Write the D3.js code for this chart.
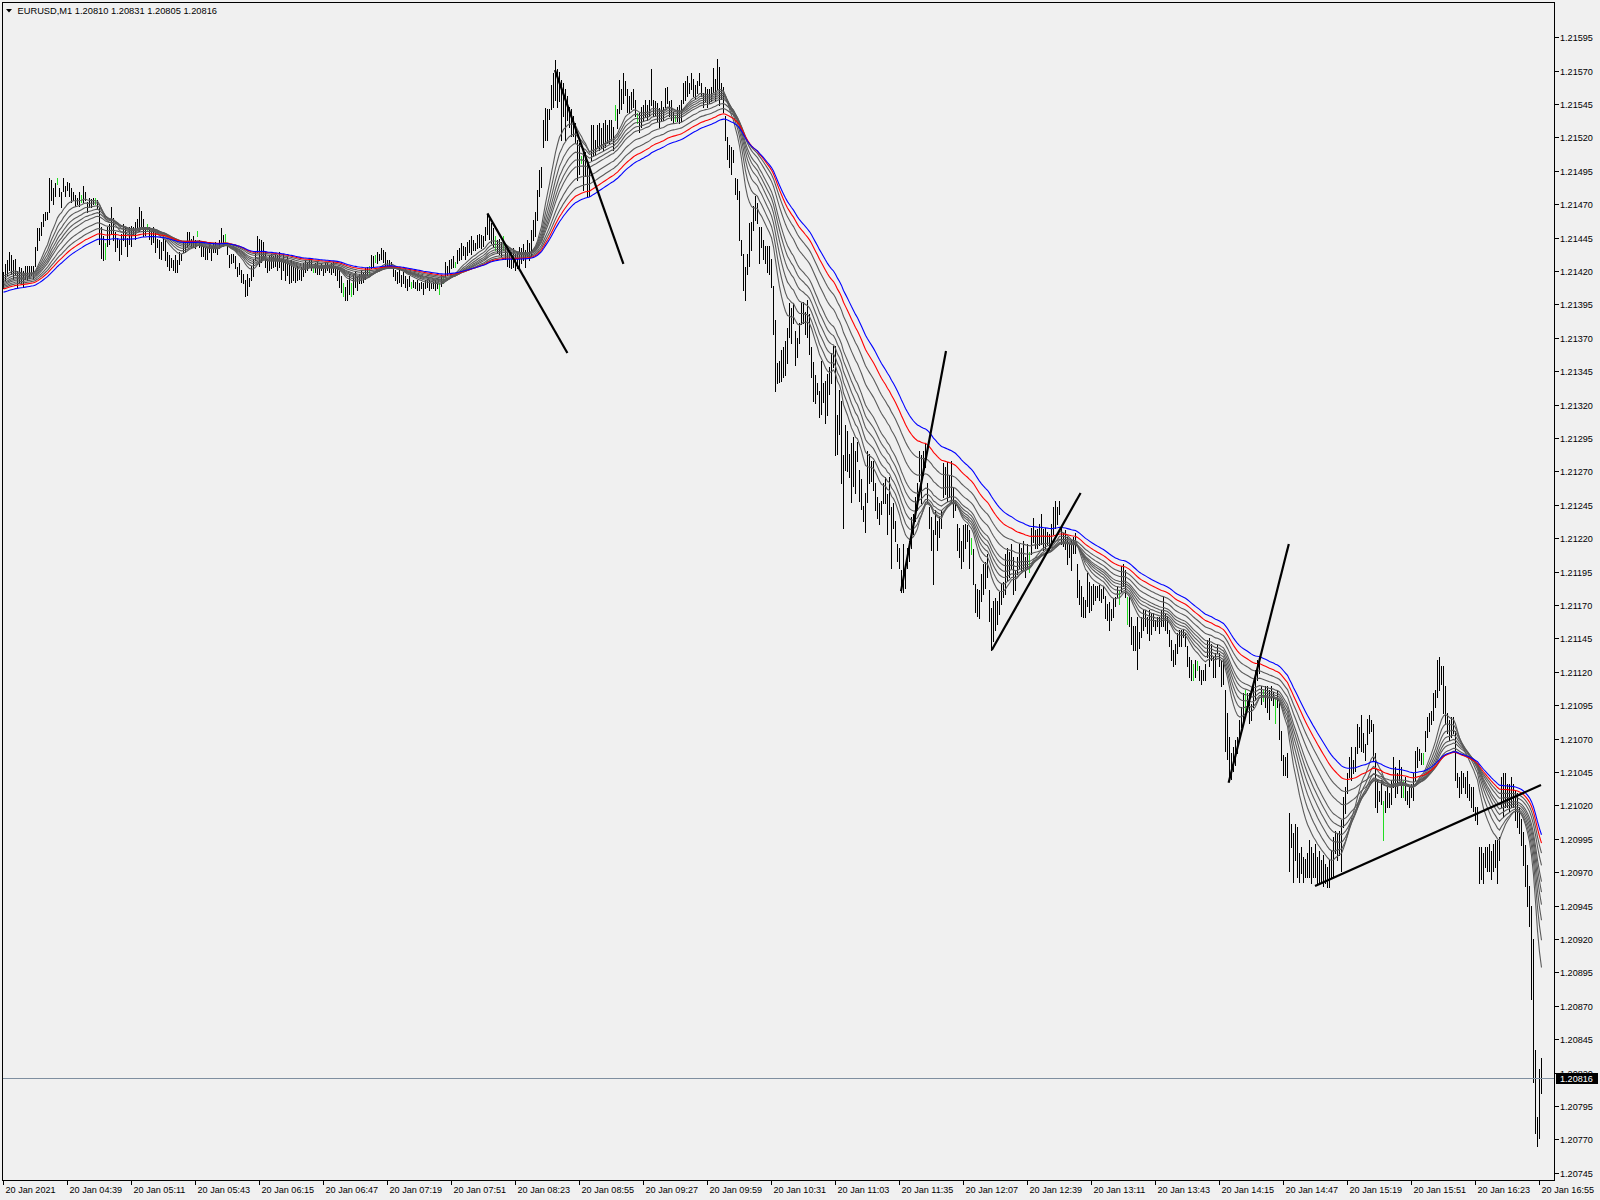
<!DOCTYPE html>
<html><head><meta charset="utf-8">
<script src="https://cdn.jsdelivr.net/npm/d3@7"></script>
<style>body{margin:0;background:#f0f0f0;overflow:hidden}svg{display:block}</style>
</head><body><svg id="c" width="1600" height="1200"></svg>
<script>
// ---------------- DATA ----------------
const chartTitle = "EURUSD,M1  1.20810 1.20831 1.20805 1.20816";
const timeLabels = ["20 Jan 2021","20 Jan 04:39","20 Jan 05:11","20 Jan 05:43","20 Jan 06:15","20 Jan 06:47","20 Jan 07:19","20 Jan 07:51","20 Jan 08:23","20 Jan 08:55","20 Jan 09:27","20 Jan 09:59","20 Jan 10:31","20 Jan 11:03","20 Jan 11:35","20 Jan 12:07","20 Jan 12:39","20 Jan 13:11","20 Jan 13:43","20 Jan 14:15","20 Jan 14:47","20 Jan 15:19","20 Jan 15:51","20 Jan 16:23","20 Jan 16:55"];
const barsPerLabel = 32;
const priceBase = 1.2;      // values below are in points above 1.20000
// bar highs (points)
const highs = [
1419,1425,1428,1434,1432,1428,1429,1420,1423,1422,
1420,1424,1424,1424,1424,1424,1438,1452,1452,1457,
1463,1464,1464,1490,1488,1482,1486,1490,1482,1479,
1490,1484,1487,1486,1482,1479,1477,1475,1479,1477,
1484,1479,1472,1475,1474,1475,1475,1473,1467,1453,
1446,1441,1453,1455,1468,1460,1449,1445,1443,1448,
1455,1453,1445,1453,1454,1453,1457,1459,1468,1465,
1459,1453,1455,1453,1450,1453,1449,1444,1443,1442,
1446,1443,1434,1432,1430,1428,1432,1428,1434,1433,
1442,1442,1449,1449,1444,1446,1443,1450,1443,1440,
1439,1437,1438,1442,1438,1440,1442,1438,1443,1452,
1447,1448,1440,1432,1433,1433,1431,1423,1426,1421,
1418,1413,1418,1415,1424,1429,1435,1446,1444,1443,
1442,1434,1429,1432,1433,1431,1433,1432,1434,1429,
1432,1428,1431,1426,1428,1423,1422,1424,1421,1423,
1426,1428,1427,1429,1428,1423,1426,1427,1424,1426,
1424,1426,1427,1424,1426,1427,1424,1423,1421,1416,
1411,1408,1413,1418,1411,1417,1419,1416,1418,1421,
1419,1422,1423,1424,1432,1431,1432,1434,1433,1437,
1436,1434,1428,1428,1427,1422,1421,1419,1421,1417,
1419,1416,1414,1416,1412,1413,1412,1413,1411,1412,
1411,1413,1414,1413,1411,1412,1413,1412,1411,1417,
1416,1427,1424,1428,1429,1431,1427,1436,1437,1441,
1439,1438,1442,1443,1446,1443,1441,1447,1448,1447,
1446,1453,1463,1459,1456,1452,1446,1443,1444,1442,
1446,1439,1438,1436,1434,1437,1433,1434,1438,1437,
1440,1436,1443,1441,1451,1458,1464,1481,1496,1498,
1533,1542,1541,1541,1559,1568,1578,1571,1569,1563,
1561,1556,1551,1543,1541,1536,1531,1518,1516,1506,
1511,1509,1501,1499,1529,1529,1518,1529,1531,1527,
1531,1533,1529,1533,1533,1528,1544,1541,1563,1556,
1568,1562,1556,1551,1554,1556,1548,1538,1538,1543,
1544,1548,1544,1548,1571,1548,1547,1546,1542,1547,
1543,1557,1558,1547,1548,1539,1537,1543,1544,1548,
1561,1562,1566,1561,1568,1564,1559,1562,1568,1561,
1553,1558,1556,1556,1558,1572,1564,1579,1573,1561,
1558,1536,1520,1514,1513,1511,1490,1489,1480,1443,
1433,1423,1433,1456,1457,1469,1476,1471,1453,1453,
1443,1439,1439,1439,1429,1409,1383,1351,1353,1361,
1363,1368,1377,1396,1392,1396,1375,1370,1381,1396,
1397,1389,1398,1388,1363,1352,1342,1336,1330,1353,
1336,1338,1343,1348,1359,1364,1364,1312,1331,1323,
1282,1305,1300,1283,1291,1296,1285,1292,1271,1264,
1244,1254,1285,1283,1278,1278,1261,1251,1246,1248,
1261,1266,1253,1266,1243,1246,1233,1216,1213,1196,
1216,1198,1213,1218,1236,1238,1251,1261,1285,1282,
1285,1291,1261,1243,1236,1226,1241,1233,1236,1241,
1276,1273,1277,1267,1278,1258,1248,1231,1228,1218,
1230,1231,1230,1226,1220,1212,1186,1182,1181,1193,
1201,1202,1208,1181,1168,1173,1175,1173,1180,1186,
1187,1208,1213,1210,1216,1206,1196,1206,1216,1213,
1218,1206,1216,1210,1228,1235,1226,1227,1231,1238,
1227,1228,1225,1223,1231,1243,1248,1243,1248,1228,
1224,1226,1221,1216,1219,1221,1224,1201,1189,1184,
1176,1174,1194,1187,1184,1186,1184,1184,1185,1182,
1184,1177,1171,1172,1167,1175,1176,1184,1181,1199,
1201,1196,1176,1176,1161,1154,1154,1161,1150,1161,
1166,1166,1161,1166,1164,1164,1159,1161,1161,1166,
1177,1164,1162,1151,1144,1136,1141,1149,1151,1151,
1151,1149,1139,1131,1129,1126,1129,1128,1124,1121,
1121,1126,1144,1145,1141,1131,1134,1141,1134,1129,
1129,1106,1089,1071,1059,1064,1069,1071,1084,1094,
1104,1106,1104,1104,1096,1109,1121,1129,1131,1109,
1106,1109,1109,1106,1109,1105,1101,1106,1099,1076,
1058,1056,1059,1014,1006,999,1006,1004,984,989,
981,980,984,994,989,984,991,981,986,979,
983,976,974,979,986,996,1001,999,1001,1009,
1026,1034,1044,1056,1064,1054,1064,1081,1079,1088,
1074,1066,1085,1088,1084,1081,1059,1039,1031,1039,
1023,1031,1034,1029,1039,1056,1049,1044,1054,1049,
1038,1041,1031,1034,1036,1044,1061,1064,1062,1059,
1059,1076,1086,1089,1091,1104,1106,1129,1131,1124,
1124,1109,1089,1084,1086,1086,1076,1044,1041,1046,
1044,1041,1046,1036,1034,1034,1019,1019,989,989,
984,989,989,991,986,991,994,994,996,1041,
1044,1044,1036,1036,1041,1036,1031,1029,1019,1010,
1000,990,975,960,945,920,837,787,823,831];
// bar lows (points)
const lows = [
1407,1413,1417,1421,1418,1414,1418,1407,1412,1411,
1408,1414,1413,1415,1417,1415,1424,1436,1443,1447,
1454,1458,1459,1464,1473,1470,1476,1485,1476,1468,
1480,1476,1481,1476,1472,1473,1469,1470,1469,1472,
1472,1473,1464,1468,1468,1470,1470,1467,1440,1430,
1428,1429,1439,1440,1448,1443,1435,1438,1428,1433,
1443,1439,1431,1440,1439,1447,1444,1453,1450,1454,
1446,1447,1450,1444,1440,1442,1434,1438,1430,1429,
1436,1428,1424,1421,1423,1421,1419,1419,1425,1428,
1434,1434,1438,1440,1438,1438,1437,1446,1438,1431,
1431,1429,1429,1434,1428,1434,1434,1433,1437,1441,
1439,1442,1433,1423,1426,1427,1422,1416,1418,1412,
1411,1401,1402,1409,1413,1416,1428,1434,1424,1427,
1429,1423,1419,1421,1422,1423,1424,1421,1423,1414,
1421,1413,1417,1411,1412,1413,1412,1413,1414,1413,
1416,1419,1421,1423,1421,1419,1419,1418,1418,1421,
1417,1419,1421,1419,1418,1419,1417,1413,1408,1404,
1401,1398,1398,1403,1401,1403,1408,1406,1411,1411,
1412,1414,1417,1418,1422,1424,1427,1426,1428,1429,
1427,1424,1424,1424,1423,1416,1413,1411,1412,1409,
1411,1408,1406,1409,1407,1408,1407,1406,1406,1407,
1403,1407,1408,1406,1407,1407,1406,1407,1403,1409,
1411,1416,1417,1419,1422,1423,1423,1426,1428,1429,
1432,1429,1432,1434,1433,1436,1436,1437,1438,1437,
1439,1443,1448,1444,1441,1438,1436,1434,1433,1431,
1436,1429,1424,1423,1422,1423,1421,1422,1423,1426,
1428,1423,1431,1428,1431,1443,1446,1458,1476,1483,
1513,1518,1518,1534,1541,1543,1548,1543,1547,1518,
1536,1518,1533,1528,1521,1521,1516,1488,1493,1501,
1481,1491,1476,1476,1503,1506,1507,1513,1511,1512,
1511,1513,1516,1516,1518,1511,1533,1527,1538,1541,
1546,1552,1539,1538,1541,1543,1536,1531,1524,1528,
1532,1536,1533,1536,1544,1536,1537,1532,1528,1533,
1533,1543,1546,1536,1533,1531,1532,1532,1531,1532,
1546,1548,1551,1553,1556,1551,1549,1553,1559,1551,
1543,1547,1543,1546,1547,1554,1548,1556,1544,1549,
1539,1518,1504,1498,1493,1502,1478,1474,1443,1432,
1406,1398,1418,1424,1436,1451,1458,1456,1426,1438,
1429,1426,1419,1418,1408,1373,1330,1336,1337,1338,
1341,1342,1351,1371,1366,1381,1350,1356,1366,1380,
1381,1373,1371,1358,1341,1323,1321,1328,1311,1313,
1322,1306,1312,1328,1336,1348,1282,1283,1298,1261,
1228,1271,1270,1266,1247,1259,1254,1278,1248,1242,
1233,1225,1247,1261,1263,1256,1241,1235,1231,1238,
1246,1246,1223,1238,1198,1228,1218,1203,1198,1180,
1180,1183,1198,1203,1213,1223,1233,1241,1263,1246,
1267,1273,1246,1228,1211,1186,1223,1211,1221,1228,
1251,1253,1248,1251,1246,1236,1241,1211,1206,1198,
1203,1213,1218,1198,1208,1186,1165,1162,1160,1173,
1178,1183,1191,1158,1136,1143,1151,1156,1163,1171,
1176,1178,1188,1191,1198,1178,1181,1193,1198,1196,
1197,1191,1198,1195,1208,1217,1213,1213,1215,1216,
1211,1213,1216,1211,1216,1223,1228,1231,1238,1216,
1214,1212,1201,1206,1196,1209,1209,1176,1171,1162,
1161,1161,1169,1165,1166,1171,1174,1176,1174,1172,
1175,1160,1159,1151,1159,1161,1169,1176,1171,1180,
1184,1176,1156,1154,1141,1136,1136,1122,1138,1146,
1151,1154,1149,1144,1148,1154,1151,1154,1149,1154,
1154,1151,1149,1139,1129,1124,1126,1134,1139,1139,
1146,1139,1124,1116,1114,1114,1116,1121,1114,1111,
1114,1114,1131,1124,1129,1116,1116,1134,1124,1109,
1111,1061,1055,1042,1040,1046,1050,1059,1071,1079,
1084,1091,1094,1082,1084,1094,1099,1114,1119,1096,
1098,1094,1090,1085,1099,1095,1082,1094,1070,1054,
1043,1043,1041,971,989,963,979,966,963,969,
963,966,966,966,962,966,966,962,963,962,
960,962,959,959,966,966,984,979,983,971,
1004,1014,1029,1041,1039,1044,1046,1059,1064,1061,
1060,1054,1066,1074,1076,1054,1019,1015,1023,1021,
994,1015,1019,1019,1021,1034,1026,1029,1039,1026,
1026,1024,1021,1019,1026,1024,1039,1049,1054,1051,
1051,1061,1071,1076,1081,1084,1094,1101,1106,1111,
1089,1081,1074,1069,1071,1074,1039,1034,1026,1029,
1034,1029,1026,1024,1019,1016,1009,1006,962,965,
962,974,971,971,965,971,974,962,979,1019,
1011,1019,1019,1016,1019,1019,1009,1004,999,990,
975,960,945,930,875,813,775,765,771,805];
// bars drawn in lime
const greenBars = [27,39,46,51,72,97,111,155,170,174,183,186,204,218,220,226,246,250,289,306,317,336,484,513,558,562,595,597,621,630,636,690,700,710];
// moving averages (EMA of median price)
const maPeriods = [15,20,25,30,35,40,50,60,70,80];
const maColors  = ["#5a5a5a","#5a5a5a","#5a5a5a","#5a5a5a","#5a5a5a","#5a5a5a","#5a5a5a","#5a5a5a","#ff0000","#0000ff"];
const maStart   = [1417,1415,1413,1411.5,1410.5,1409.5,1408.5,1407.5,1406.5,1404]; // values just before first bar
// trend lines: [bar1, points1, bar2, points2]
const trendLines = [
  [242.2,1463.2,282.2,1358.6],
  [276.0,1570.5,310.2,1425.3],
  [449.0,1180.4,471.5,1360.1],
  [494.4,1136.3,538.8,1253.8],
  [612.8,1036.9,642.9,1215.7],
  [656.0,959.6,769.0,1035.2]
];
const bidPrice = 1.20816;
const priceTickStart = 1.20745, priceTickStep = 0.00025, priceTickCount = 35;

// ---------------- DRAW ----------------
const svg = d3.select("#c");
const W = 1600, H = 1200;
const L = 2.5, R = 1554.5, T = 2.5, B = 1180.5;
const font = "'Liberation Sans', Arial, sans-serif";
const P = v => priceBase + v / 100000;

const x = d3.scaleLinear().domain([0, 769]).range([3, 1541]);
const y = d3.scaleLinear().domain([1.20745, 1.21595]).range([1172.7, 37.3]);

svg.append("rect").attr("width", W).attr("height", H).attr("fill", "#f0f0f0");

const plot = svg.append("g");
plot.append("defs").append("clipPath").attr("id","clip")
  .append("rect").attr("x", L).attr("y", T).attr("width", R - L).attr("height", B - T);
const g = plot.append("g").attr("clip-path", "url(#clip)");

// bars
const greenSet = new Set(greenBars);
const bars = d3.range(highs.length).map(i => ({i, h: P(highs[i]), l: P(lows[i])}));
g.append("g").attr("shape-rendering", "crispEdges").selectAll("line").data(bars).join("line")
  .attr("x1", d => Math.round(x(d.i)) + 0.5).attr("x2", d => Math.round(x(d.i)) + 0.5)
  .attr("y1", d => Math.round(y(d.h))).attr("y2", d => Math.round(y(d.l)) + 1)
  .attr("stroke", d => greenSet.has(d.i) ? "#22dd22" : "#000")
  .attr("stroke-width", 1);

// EMAs of median price
const med = bars.map(d => (d.h + d.l) / 2);
maPeriods.forEach((n, k) => {
  const a = 2 / (n + 1);
  let e = P(maStart[k]);
  const vals = med.map((m, i) => (e = e + a * (m - e)));
  g.append("path").datum(vals)
    .attr("d", d3.line().x((v, i) => x(i) + 0.5).y(v => y(v)))
    .attr("fill", "none").attr("stroke", maColors[k]).attr("stroke-width", 1.1);
});

// trend lines
g.append("g").selectAll("line").data(trendLines).join("line")
  .attr("x1", d => x(d[0])).attr("y1", d => y(P(d[1])))
  .attr("x2", d => x(d[2])).attr("y2", d => y(P(d[3])))
  .attr("stroke", "#000").attr("stroke-width", 2.2);

// bid line
const by = Math.round(y(bidPrice)) + 0.5;
g.append("line").attr("x1", L).attr("x2", R).attr("y1", by).attr("y2", by)
  .attr("stroke", "#7f8fa0").attr("stroke-width", 1).attr("shape-rendering","crispEdges");

// frame
svg.append("rect").attr("x", L).attr("y", T).attr("width", R - L).attr("height", B - T)
  .attr("fill", "none").attr("stroke", "#000").attr("shape-rendering", "crispEdges");

// price axis
const pticks = d3.range(priceTickCount).map(k => +(priceTickStart + k * priceTickStep).toFixed(5));
const pa = svg.append("g").attr("font-family", font).attr("font-size", "9.1px").attr("fill", "#000");
pticks.forEach(p => {
  const ty = Math.round(y(p)) + 0.5;
  pa.append("line").attr("x1", R).attr("x2", R + 4).attr("y1", ty).attr("y2", ty)
    .attr("stroke", "#000").attr("shape-rendering", "crispEdges");
  pa.append("text").attr("x", 1560).attr("y", ty + 3.3).text(p.toFixed(5));
});
// bid label
pa.append("rect").attr("x", 1556).attr("y", by - 5.5).attr("width", 42).attr("height", 11).attr("fill", "#000");
pa.append("text").attr("x", 1560).attr("y", by + 3.3).attr("fill", "#fff").text(bidPrice.toFixed(5));

// time axis
const ta = svg.append("g").attr("font-family", font).attr("font-size", "9.1px").attr("fill", "#000");
timeLabels.forEach((t, k) => {
  const tx = Math.round(x(k * barsPerLabel)) + 0.5;
  ta.append("line").attr("x1", tx).attr("x2", tx).attr("y1", B).attr("y2", B + 4)
    .attr("stroke", "#000").attr("shape-rendering", "crispEdges");
  ta.append("text").attr("x", tx + 2).attr("y", 1192.5).text(t);
});

// title
svg.append("path").attr("d", "M6,9 L12,9 L9,12.5 Z").attr("fill", "#000");
svg.append("text").attr("x", 17.5).attr("y", 14).attr("font-family", font).attr("font-size", "9.3px")
  .attr("fill", "#000").text(chartTitle);
</script></body></html>
